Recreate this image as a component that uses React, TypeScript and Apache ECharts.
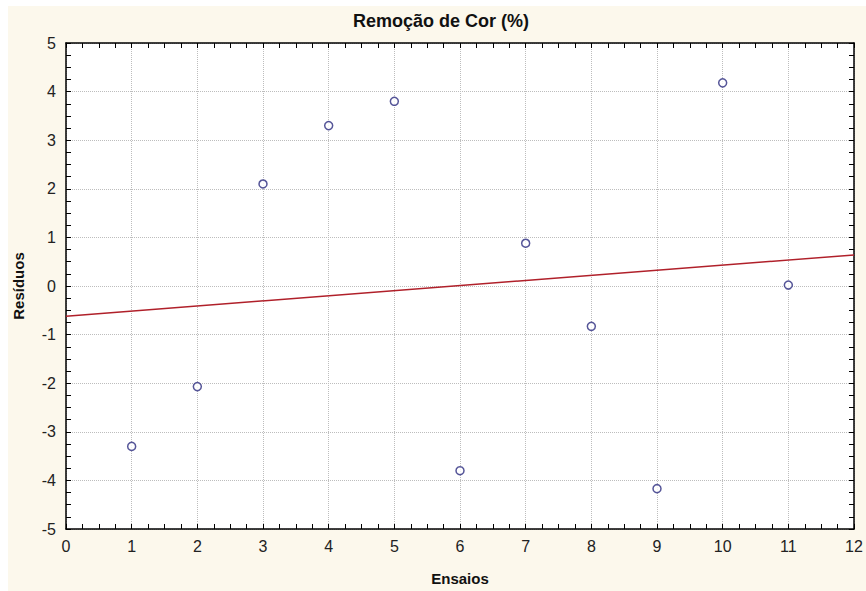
import React, { useEffect, useRef } from "react";
import * as echarts from "echarts";

const ensaios = [1, 2, 3, 4, 5, 6, 7, 8, 9, 10, 11];
const residuos = [-3.3, -2.07, 2.1, 3.3, 3.8, -3.8, 0.88, -0.83, -4.17, 4.18, 0.02];
const fitX = [0, 12];
const fitY = [-0.62, 0.64];
const titleText = "Remoção de Cor (%)";
const xName = "Ensaios";
const yName = "Resíduos";

const FONT = "'Liberation Sans', Arial, sans-serif";

export default function App() {
  const ref = useRef<HTMLDivElement>(null);
  useEffect(() => {
    if (!ref.current) return;
    const chart = echarts.init(ref.current, undefined, { renderer: "svg" });
    const tickCommon = {
      axisLine: { show: true, onZero: false, lineStyle: { color: "#000", width: 1.5 } },
      axisTick: { show: true, inside: true, length: 5, lineStyle: { color: "#000", width: 1 } },
      minorTick: { show: true, splitNumber: 4, length: 5, lineStyle: { color: "#000", width: 1 } },
      minorSplitLine: { show: false },
    };
    const labelStyle = { color: "#222", fontSize: 16, fontFamily: FONT };
    chart.setOption({
      animation: false,
      backgroundColor: "#FCF8EC",
      title: {
        text: titleText,
        left: 428,
        top: 1,
        textAlign: "center",
        textStyle: { fontSize: 18, fontWeight: "bold", color: "#111", fontFamily: FONT },
      },
      grid: {
        left: 58,
        top: 37,
        right: 12,
        bottom: 62,
        show: true,
        backgroundColor: "#fff",
        borderWidth: 0,
        containLabel: false,
        outerBoundsMode: "none",
      },
      xAxis: [
        {
          type: "value",
          min: 0,
          max: 12,
          interval: 1,
          position: "bottom",
          ...tickCommon,
          axisLabel: { ...labelStyle, margin: 9 },
          splitLine: { show: true, lineStyle: { color: "#BDBDBD", type: "dotted", width: 1 } },
          name: xName,
          nameLocation: "middle",
          nameGap: 42,
          nameTextStyle: { fontSize: 15, fontWeight: "bold", color: "#111", fontFamily: FONT },
        },
        {
          type: "value",
          min: 0,
          max: 12,
          interval: 1,
          position: "top",
          ...tickCommon,
          axisLabel: { show: false },
          splitLine: { show: false },
        },
      ],
      yAxis: [
        {
          type: "value",
          min: -5,
          max: 5,
          interval: 1,
          position: "left",
          ...tickCommon,
          axisLabel: { ...labelStyle, margin: 10 },
          splitLine: { show: true, lineStyle: { color: "#BDBDBD", type: "dotted", width: 1 } },
          name: yName,
          nameLocation: "middle",
          nameGap: 40,
          nameTextStyle: { fontSize: 15, fontWeight: "bold", color: "#111", fontFamily: FONT },
        },
        {
          type: "value",
          min: -5,
          max: 5,
          interval: 1,
          position: "right",
          ...tickCommon,
          axisLabel: { show: false },
          splitLine: { show: false },
        },
      ],
      series: [
        {
          type: "line",
          data: fitX.map((x, i) => [x, fitY[i]]),
          showSymbol: false,
          symbol: "none",
          lineStyle: { color: "#B0202A", width: 1.5 },
          z: 2,
        },
        {
          type: "scatter",
          data: ensaios.map((x, i) => [x, residuos[i]]),
          symbol: "circle",
          symbolSize: 8,
          itemStyle: { color: "#fff", borderColor: "#2B2B7E", borderWidth: 1.5 },
          z: 3,
        },
      ],
    });
    return () => chart.dispose();
  }, []);
  return (
    <div
      ref={ref}
      style={{ position: "fixed", left: 8, top: 6, width: 858, height: 585 }}
    />
  );
}
